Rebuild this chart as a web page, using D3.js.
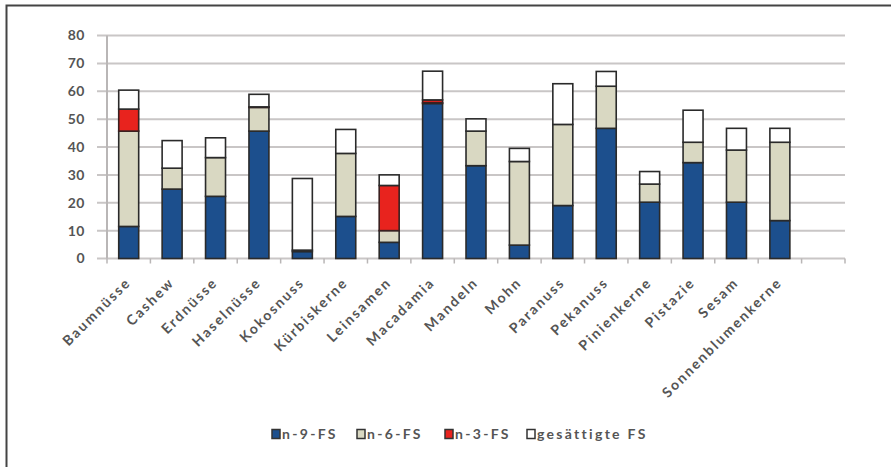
<!DOCTYPE html>
<html><head><meta charset="utf-8">
<script src="https://cdn.jsdelivr.net/npm/d3@7"></script>
<style>body{margin:0;background:#fff}svg{display:block}</style>
</head><body>
<script>
const categories = ["Baumnüsse","Cashew","Erdnüsse","Haselnüsse","Kokosnuss","Kürbiskerne","Leinsamen","Macadamia","Mandeln","Mohn","Paranuss","Pekanuss","Pinienkerne","Pistazie","Sesam","Sonnenblumenkerne",""];
const n9  = [11.5,24.9,22.3,45.7,2.5,15.1,5.8,55.6,33.3,4.8,19.0,46.7,20.2,34.4,20.2,13.6,0];
const n6  = [34.2,7.5,13.9,8.5,0.5,22.6,4.2,0.3,12.4,30.0,29.1,15.1,6.5,7.3,18.7,28.1,0];
const n3  = [7.9,0,0,0.2,0,0,16.2,1.0,0,0,0,0,0,0,0,0,0];
const sat = [6.8,9.9,7.1,4.5,25.7,8.6,3.8,10.3,4.4,4.7,14.6,5.3,4.5,11.5,7.8,5.0,0];
const seriesNames = ["n-9-FS","n-6-FS","n-3-FS","gesättigte FS"];
const colors = ["#1c4f8d","#d9d8c2","#e8231e","#ffffff"];
const yTicks = [0,10,20,30,40,50,60,70,80];

const W=891,H=467;
const svg=d3.select("body").append("svg").attr("width",W).attr("height",H);
// frame
svg.append("path").attr("d",`M6.5,${H} V5.5 H${W}`).attr("fill","none").attr("stroke","#444").attr("stroke-width",2);

const x=d3.scaleBand().domain(categories.map((c,i)=>i)).range([107,845]).paddingInner(0.54).paddingOuter(0.27);
const y=d3.scaleLinear().domain([0,80]).range([258.5,35.5]);
const font="Lato, 'Open Sans', sans-serif";

// gridlines
svg.append("g").selectAll("line").data(yTicks).join("line")
  .attr("x1",97).attr("x2",845).attr("y1",d=>y(d)).attr("y2",d=>y(d))
  .attr("stroke","#c9c6c6").attr("stroke-width",2);
// y axis line
svg.append("line").attr("x1",107).attr("x2",107).attr("y1",y(80)).attr("y2",y(0)).attr("stroke","#b9b6b6").attr("stroke-width",2);
// y labels
svg.append("g").selectAll("text").data(yTicks).join("text")
  .attr("x",85).attr("y",d=>y(d)).attr("dy","0.35em").attr("text-anchor","end")
  .attr("font-family",font).attr("font-size",14).attr("font-weight","bold").attr("fill","#555")
  .attr("letter-spacing",0.5)
  .text(d=>d);
// x ticks
const step=(845-107)/categories.length;
svg.append("g").selectAll("line").data(d3.range(categories.length+1)).join("line")
  .attr("x1",d=>107+d*step).attr("x2",d=>107+d*step).attr("y1",y(0)).attr("y2",y(0)+5)
  .attr("stroke","#b9b6b6").attr("stroke-width",1.5);

// stacks
const rows=categories.map((c,i)=>({i,s0:n9[i],s1:n6[i],s2:n3[i],s3:sat[i]}));
const stack=d3.stack().keys(["s0","s1","s2","s3"])(rows);
stack.forEach((layer,k)=>{
  svg.append("g").selectAll("rect").data(layer.filter(d=>d[1]-d[0]>0)).join("rect")
    .attr("x",d=>x(d.data.i)).attr("width",x.bandwidth())
    .attr("y",d=>y(d[1])).attr("height",d=>y(d[0])-y(d[1]))
    .attr("fill",colors[k])
    .attr("stroke",k===2?"#3a2020":"#2a2a2a").attr("stroke-width",1.6);
});

// category labels
svg.append("g").selectAll("text").data(categories).join("text")
  .attr("transform",(d,i)=>`translate(${x(i)+x.bandwidth()/2+3},${y(0)+25}) rotate(-45)`)
  .attr("text-anchor","end")
  .attr("font-family",font).attr("font-size",14).attr("font-weight","bold").attr("fill","#555")
  .attr("letter-spacing",2)
  .text(d=>d);

// legend
const lx=[272,357,445,527];
const lg=svg.append("g").selectAll("g").data(seriesNames).join("g")
  .attr("transform",(d,i)=>`translate(${lx[i]},434)`);
lg.append("rect").attr("x",0).attr("y",-4.5).attr("width",8).attr("height",9)
  .attr("fill",(d,i)=>colors[i]).attr("stroke","#333").attr("stroke-width",1.5);
lg.append("text").attr("x",10).attr("y",0).attr("dy","0.35em")
  .attr("font-family",font).attr("font-size",14).attr("font-weight","bold").attr("fill","#555")
  .attr("letter-spacing",2.3)
  .text(d=>d);
</script>
</body></html>
